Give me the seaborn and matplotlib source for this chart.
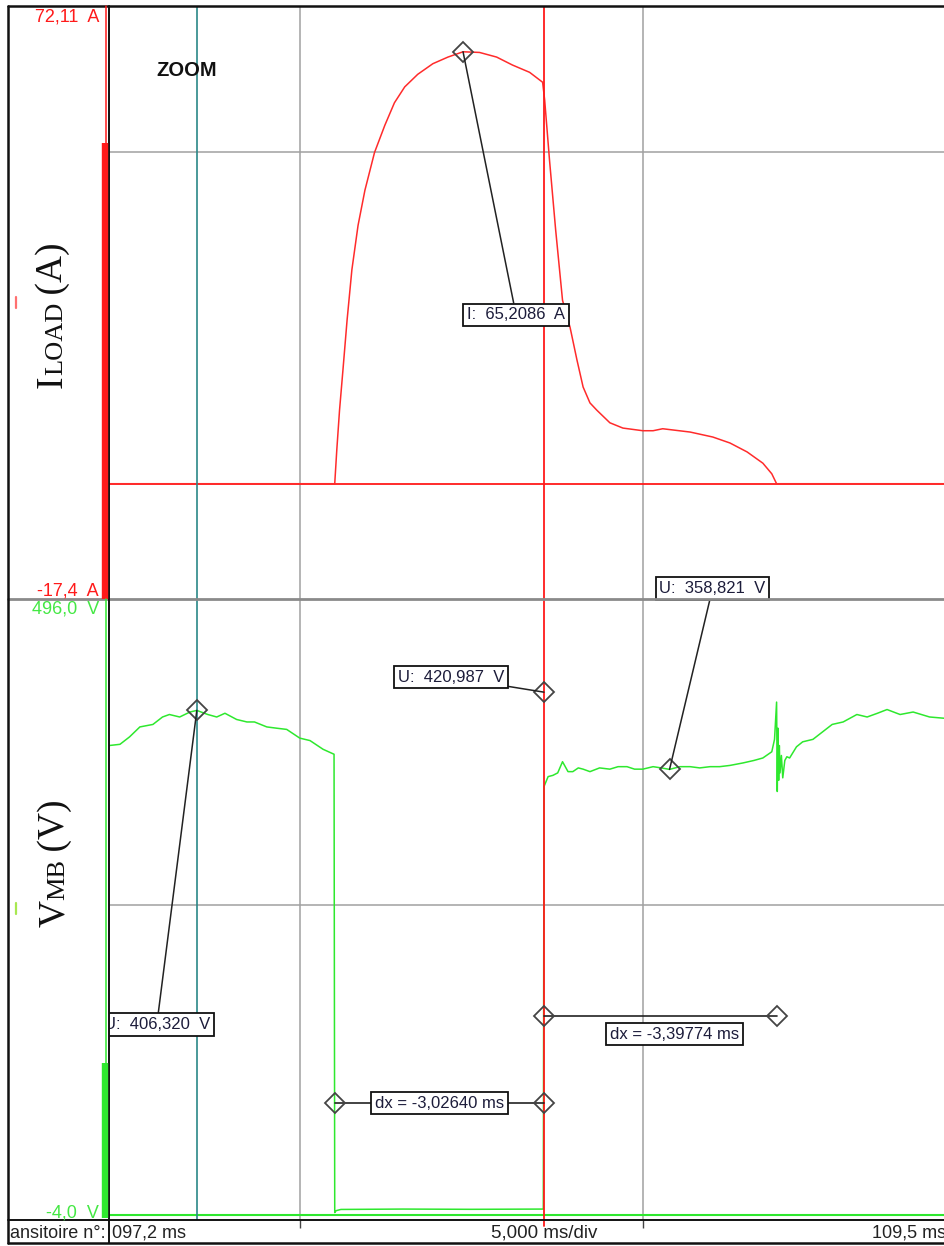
import matplotlib
matplotlib.use("Agg")
import matplotlib.pyplot as plt
import seaborn as sns

# ---------------- data ----------------
t_range = (97.22, 109.39)          # ms, visible time window
grid_t = [100.0, 105.0]            # 5 ms/div grid
cursor_teal = 98.50
cursor_red = 103.56
i_range = (-17.4, 72.11)           # A
v_range = (-4.0, 496.0)            # V
i_grid = [50.0]
v_grid = [250.0]

cur_t = [97.22, 100.51, 100.54, 100.58, 100.63, 100.69, 100.76, 100.85, 100.95, 101.09,
         101.24, 101.38, 101.53, 101.72, 101.94, 102.16, 102.38, 102.62, 102.87, 103.10,
         103.35, 103.54, 103.57, 103.64, 103.73, 103.83, 103.94, 104.04, 104.13, 104.23,
         104.33, 104.52, 104.71, 105.00, 105.15, 105.29, 105.69, 106.02, 106.27, 106.52,
         106.75, 106.88, 106.95, 109.39]
cur_a = [0.0, 0.0, 5.1, 11.1, 17.2, 24.7, 32.3, 39.0, 44.3, 50.0,
         54.1, 57.5, 59.9, 61.8, 63.4, 64.4, 65.2, 65.1, 64.4, 63.2,
         62.1, 60.6, 57.9, 48.9, 38.3, 27.7, 23.6, 18.7, 14.6, 12.2,
         11.1, 9.2, 8.4, 8.0, 8.0, 8.3, 7.8, 7.05, 6.15, 4.8,
         3.1, 1.5, 0.0, 0.0]

volt_t = [97.22, 97.38, 97.52, 97.67, 97.86, 98.00, 98.10, 98.25, 98.40, 98.50,
          98.66, 98.79, 98.91, 99.08, 99.23, 99.34, 99.52, 99.66, 99.81, 100.00,
          100.15, 100.34, 100.50, 100.51, 100.53, 100.60, 101.50, 102.50, 103.55, 103.56,
          103.62, 103.69, 103.76, 103.83, 103.91, 103.98, 104.06, 104.13, 104.23, 104.37,
          104.52, 104.64, 104.77, 104.88, 105.00, 105.15, 105.27, 105.39, 105.54, 105.69,
          105.83, 105.98, 106.12, 106.27, 106.46, 106.62, 106.75, 106.88, 106.92, 106.95,
          106.96, 106.97, 106.98, 106.99, 107.00, 107.02, 107.04, 107.07, 107.10, 107.14,
          107.24, 107.33, 107.48, 107.62, 107.76, 107.92, 108.12, 108.27, 108.42, 108.56,
          108.75, 108.94, 109.18, 109.39]
volt_v = [378, 379, 385, 393, 395, 401, 403, 401, 405, 406.3,
          403, 401, 404, 399, 397, 397, 393, 392, 391, 384,
          382, 375, 371, 2.0, 3.5, 4.5, 4.8, 4.6, 4.8, 345,
          353, 354, 356, 365, 357, 357, 360, 359, 357, 360,
          359, 361, 361, 359, 359, 361, 360, 358.8, 361, 361,
          360, 361, 361, 362, 364, 366, 368, 373, 383, 413,
          341, 392, 350, 378, 356, 370, 352, 366, 369, 368,
          377, 381, 383, 389, 395, 397, 403, 401, 404, 407,
          403, 405, 401, 400]
assert len(volt_t) == len(volt_v) and len(cur_t) == len(cur_a)

# cursor measurements
i_meas_t, i_meas_a = [102.38], [65.2086]
u_meas_t = [98.50, 103.56, 105.39]
u_meas_v = [406.320, 420.987, 358.821]
dx_t0 = [100.51, 103.56]
dx_t1 = [103.56, 106.96]
dx_level = [90.0, 160.0]
dx_value = [-3.02640, -3.39774]

scale_i = ["72,11  A", "-17,4  A"]
scale_v = ["496,0  V", "-4,0  V"]
bar_labels = ["ansitoire n°:", "097,2 ms", "5,000 ms/div", "109,5 ms"]

# ---------------- style ----------------
sns.set_theme(style="white")
plt.rcParams["font.family"] = ["Liberation Sans", "DejaVu Sans"]

RED = "#ff1a1a"
TRACE_RED = "#ff2b2b"
GREEN = "#2ee82e"
TEAL = "#2a8888"
GRID = "#a0a0a0"
TXT = "#1c1c3a"
W, H = 944, 1246

fig = plt.figure(figsize=(W / 100, H / 100), dpi=100, facecolor="white")


def rect(x0, y0, x1, y1):
    return [x0 / W, 1 - y1 / H, (x1 - x0) / W, (y1 - y0) / H]


ax_top = fig.add_axes(rect(109, 6, W, 599))
ax_bot = fig.add_axes(rect(109, 599, W, 1220))
ax_bar = fig.add_axes(rect(109, 1220, W, 1243))

for ax in (ax_top, ax_bot, ax_bar):
    ax.set_facecolor("none")
    for s in ax.spines.values():
        s.set_visible(False)
    ax.set_xlim(*t_range)

ax_top.set_ylim(*i_range)
ax_bot.set_ylim(*v_range)

for ax, yg in ((ax_top, i_grid), (ax_bot, v_grid)):
    ax.set_xticks(grid_t)
    ax.set_yticks(yg)
    ax.grid(True, color=GRID, lw=1.1)
    ax.set_axisbelow(True)
    ax.tick_params(length=0, labelbottom=False, labelleft=False)

# traces
ax_top.axhline(0, color=RED, lw=1.3, zorder=2)
sns.lineplot(x=cur_t, y=cur_a, ax=ax_top, color=TRACE_RED, lw=1.1, estimator=None,
             sort=False, legend=False, zorder=3)
ax_bot.axhline(0, color=GREEN, lw=1.5, zorder=2)
sns.lineplot(x=volt_t, y=volt_v, ax=ax_bot, color=GREEN, lw=1.1, estimator=None,
             sort=False, legend=False, zorder=3)
for ax in (ax_top, ax_bot):
    ax.set_xlabel("")
    ax.set_ylabel("")
    ax.axvline(cursor_teal, color=TEAL, lw=1.2, zorder=4)
    ax.axvline(cursor_red, color=RED, lw=1.3, zorder=4)

# bottom bar ticks
ax_bar.set_xticks(grid_t)
ax_bar.set_yticks([])
ax_bar.tick_params(axis="x", direction="in", length=6, width=1, color="#444",
                   top=True, bottom=False, labelbottom=False, labeltop=False)
ax_bar.axvline(cursor_red, ymin=0.72, ymax=1.0, color=RED, lw=1.3)

# ---------------- cursor annotations ----------------
box = dict(boxstyle="square,pad=0.22", fc="white", ec="#111", lw=1.3)
arrow = dict(arrowstyle="-", color="#222", lw=1.1, shrinkA=0, shrinkB=0)
mk = dict(marker="D", ms=10, mfc="none", mec="#444", mew=1.3, ls="none", zorder=6)


def fmt(v, nd):
    return f"{v:.{nd}f}".replace(".", ",")


ax_top.plot(i_meas_t, i_meas_a, **mk)
ax_top.annotate(f"I:  {fmt(i_meas_a[0], 4)}  A", xy=(i_meas_t[0], i_meas_a[0]),
                xytext=(53, -263), textcoords="offset pixels", ha="center", va="center",
                fontsize=12, color=TXT, bbox=box, arrowprops=arrow, zorder=7)

ax_bot.plot(u_meas_t, u_meas_v, **mk)
u_offsets = [(-40, -314), (-93, 15), (43, 181)]
for t, v, off in zip(u_meas_t, u_meas_v, u_offsets):
    a = ax_bot.annotate(f"U:  {fmt(v, 3)}  V", xy=(t, v), xytext=off,
                        textcoords="offset pixels", ha="center", va="center",
                        fontsize=12, color=TXT, bbox=box, arrowprops=arrow, zorder=7,
                        annotation_clip=False)
    if off[0] < 0 and off[1] < -100:
        a.set_clip_box(ax_bot.bbox)

dx_offsets = [(0, 0), (14, -18)]
for t0, t1, lv, dv, off in zip(dx_t0, dx_t1, dx_level, dx_value, dx_offsets):
    ax_bot.plot([t0, t1], [lv, lv], color="#222", lw=1.2, zorder=5)
    ax_bot.plot([t0, t1], [lv, lv], **mk)
    ax_bot.annotate(f"dx = {fmt(dv, 5)} ms", xy=((t0 + t1) / 2, lv), xytext=off,
                    textcoords="offset pixels", ha="center", va="center",
                    fontsize=12, color=TXT, bbox=box, zorder=7)

# ---------------- frame / scope decorations (pixel coords) ----------------
fr = fig.add_axes([0, 0, 1, 1], zorder=10)
fr.set_xlim(0, W)
fr.set_ylim(H, 0)
fr.axis("off")
fr.set_facecolor("none")

fr.plot([8, W], [599, 599], color="#8a8a8a", lw=2.0)
fr.plot([8, 8], [6, 1243], color="#111", lw=1.8)
fr.plot([8, W], [6, 6], color="#111", lw=1.8)
fr.plot([8, W], [1243, 1243], color="#111", lw=1.8)
fr.plot([8, W], [1220, 1220], color="#111", lw=1.4)
fr.plot([109, 109], [6, 1243], color="#111", lw=1.4)

# channel bars at left edge of the graticule
fr.plot([106, 106], [6, 143], color=RED, lw=1.1)
fr.plot([105, 105], [143, 599], color=RED, lw=4.6, solid_capstyle="butt")
fr.plot([106, 106], [599, 1063], color=GREEN, lw=1.1)
fr.plot([105, 105], [1063, 1218], color=GREEN, lw=4.6, solid_capstyle="butt")
fr.plot([15.5, 15.5], [297, 308], color="#ff7070", lw=1.6)
fr.plot([15.5, 15.5], [903, 914], color="#a8e850", lw=1.6)

# scale labels
fr.text(99, 9, scale_i[0], color=RED, fontsize=13, ha="right", va="top")
fr.text(99, 595, scale_i[1], color=RED, fontsize=13, ha="right", va="baseline")
fr.text(99, 601, scale_v[0], color="#44e844", fontsize=13, ha="right", va="top")
fr.text(99, 1217, scale_v[1], color="#44e844", fontsize=13, ha="right", va="baseline")

fr.text(187, 70, "ZOOM", fontsize=14.5, fontweight="bold", color="#111",
        ha="center", va="center")

# bottom bar texts
fr.text(10, 1238, bar_labels[0], fontsize=13, color="#222", ha="left", va="baseline")
fr.text(112, 1238, bar_labels[1], fontsize=13, color="#222", ha="left", va="baseline")
fr.text(544, 1238, bar_labels[2], fontsize=13.5, color="#222", ha="center", va="baseline")
fr.text(946, 1238, bar_labels[3], fontsize=13, color="#222", ha="right", va="baseline")

# rotated serif channel names with small-cap style subscripts
renderer = fig.canvas.get_renderer()


def stacked_label(x_base, y_bottom, parts):
    y = y_bottom
    for s, size in parts:
        t = fr.text(x_base, y, s, rotation=90, rotation_mode="anchor", ha="left",
                    va="baseline", fontsize=size, color="#111",
                    family=["Liberation Serif", "DejaVu Serif"])
        bb = t.get_window_extent(renderer=renderer)
        y -= bb.height


stacked_label(62, 388, [("I", 27), ("LOAD", 19), ("\u2009(A)", 27)])
stacked_label(64, 927, [("V", 27), ("MB", 19), ("\u2009(V)", 27)])

fig.savefig("out.png", dpi=100, facecolor="white")
